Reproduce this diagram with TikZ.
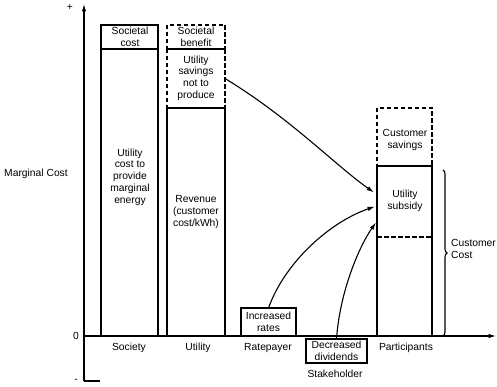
\documentclass[tikz,border=0pt]{standalone}
\usepackage{fontspec}
\setmainfont{Liberation Sans}
\usetikzlibrary{arrows.meta,decorations.pathreplacing,calc}
\tikzset{
  thk/.style={line width=1.1pt},
  barbox/.style={rectangle, draw, line width=1.1pt, inner sep=0pt, outer sep=0pt, anchor=north west},
  dashbox/.style={barbox, dash pattern=on 4.5pt off 2.5pt},
  lbl/.style={font=\fontsize{10.3}{11.7}\selectfont, align=center, inner sep=0pt},
  flowarrow/.style={line width=1.1pt, -{Latex[length=7.5pt,width=4.5pt]}}
}
\begin{document}
\begin{tikzpicture}[x=1pt,y=-1pt]
\useasboundingbox (0,0) rectangle (497,387);
\coordinate (org) at (84,336);
\coordinate (ytop) at (84,4);
\coordinate (ybot) at (84,381);
\coordinate (xend) at (496,336);
\coordinate (tickend) at (100,381);
\draw[flowarrow] (ybot) -- (ytop);
\draw[flowarrow] (org) -- (xend);
\draw[thk] (ybot) -- (tickend);
\node[lbl] (plus) at (70,8) {+};
\node[lbl] (zero) at (76,336) {0};
\node[lbl] (minus) at (76,381) {-};
\node[lbl] (mc) at (36,174) {Marginal Cost};
\node[barbox, minimum width=57pt, minimum height=24pt] (scost) at (101,25) {};
\node[barbox, minimum width=57pt, minimum height=287pt] (ucost) at (101,49) {};
\node[lbl] (t1) at (130,37) {Societal\\cost};
\node[lbl] (t4) at (130,177) {Utility\\cost to\\provide\\marginal\\energy};
\node[dashbox, minimum width=58pt, minimum height=24pt] (sben) at (167,25) {};
\node[dashbox, minimum width=58pt, minimum height=59pt] (usav) at (167,49) {};
\node[barbox, minimum width=58pt, minimum height=228pt] (rev) at (167,108) {};
\node[lbl] (t2) at (196,37) {Societal\\benefit};
\node[lbl] (t3) at (196,78) {Utility\\savings\\not to\\produce};
\node[lbl] (t5) at (196,212) {Revenue\\(customer\\cost/kWh)};
\node[dashbox, minimum width=55pt, minimum height=58pt] (csav) at (377,108) {};
\node[barbox, minimum width=55pt, minimum height=170pt] (pbar) at (377,166) {};
\coordinate (dl) at (377,237);
\coordinate (dr) at (432,237);
\draw[thk, dash pattern=on 4.5pt off 2.5pt] (dl) -- (dr);
\node[rectangle, inner sep=0pt, outer sep=0pt, anchor=north west, minimum width=55pt, minimum height=71pt] (subsidy) at (377,166) {};
\node[lbl] (t6) at (405,140) {Customer\\savings};
\node[lbl] (t7) at (405,201) {Utility\\subsidy};
\node[barbox, lbl, minimum width=55pt, minimum height=28pt] (rates) at (241,308) {Increased\\rates};
\node[barbox, lbl, minimum width=61pt, minimum height=24pt] (divs) at (306,339) {Decreased\\dividends};
\node[lbl] (l1) at (129,348) {Society};
\node[lbl] (l2) at (198,348) {Utility};
\node[lbl] (l3) at (268,348) {Ratepayer};
\node[lbl] (l4) at (406,348) {Participants};
\node[lbl] (l5) at (335,374) {Stakeholder};
\coordinate (bt) at (443,170);
\coordinate (bb) at (443,336);
\draw[thk, decorate, decoration={brace, amplitude=4pt}] (bt) -- (bb);
\node[lbl, anchor=west, align=left] (cc) at (451,249) {Customer\\Cost};
\draw[flowarrow] (usav.east) .. controls (290,118) and (335,165) .. ($(subsidy.west)+(-3,-9)$);
\draw[flowarrow] (rates.north) .. controls (285,262) and (330,222) .. ($(subsidy.west)+(-2,5)$);
\draw[flowarrow] (divs.north) .. controls (340,290) and (360,245) .. ($(subsidy.west)+(-1,21)$);
\end{tikzpicture}
\end{document}
